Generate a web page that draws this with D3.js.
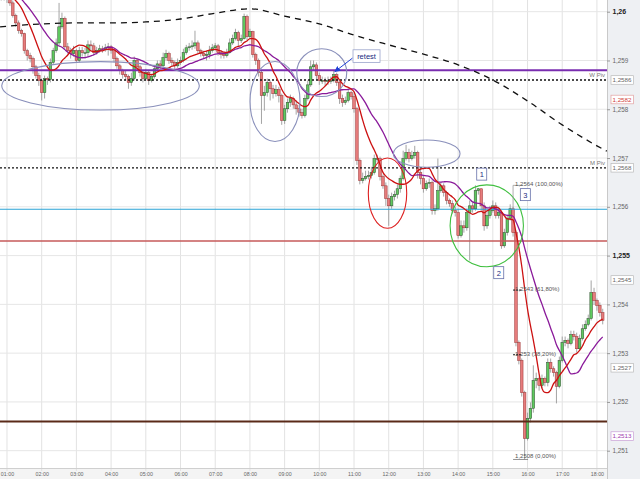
<!DOCTYPE html>
<html><head><meta charset="utf-8">
<script src="https://cdn.jsdelivr.net/npm/d3@7"></script>
<style>body{margin:0;background:#fff}svg{display:block;font-family:"Liberation Sans",Arial,sans-serif}</style>
</head><body><svg id="c" width="640" height="479"></svg>
<script>
// ---------- DATA ----------
const firstBarTime = "00:50";
const barMinutes = 5;
const firstOpen = 1.26043;
// estimated closes before the first visible bar (needed by the moving averages)
const priorCloses = [1.2609,1.2609,1.2608,1.2608,1.2607,1.2607,1.2606,1.2606,1.2605,1.2605,1.2605,1.2604,1.2604,1.2604,1.2604,1.2603,1.2604,1.2604,1.2604];
const closes = [
1.26029,1.26035,1.26027,1.26018,1.25992,1.25977,1.25961,1.25955,1.2592,1.2591,
1.25904,1.25887,1.25869,1.25859,1.25834,1.25863,1.25861,1.25896,1.2592,1.25936,
1.25969,1.25986,1.25928,1.2592,1.25914,1.2592,1.259,1.2592,1.25916,1.25916,
1.25932,1.2593,1.25916,1.2592,1.25924,1.25922,1.25926,1.25928,1.2592,1.25904,
1.25889,1.25879,1.25871,1.25867,1.25855,1.25863,1.259,1.25887,1.25875,1.25863,
1.25875,1.25859,1.25867,1.25883,1.25893,1.25889,1.25906,1.25914,1.259,1.25896,
1.25889,1.25896,1.259,1.25916,1.25926,1.25928,1.2593,1.25936,1.2592,1.25914,
1.2591,1.25912,1.2592,1.25926,1.2593,1.25916,1.25912,1.2591,1.25916,1.25936,
1.25945,1.25957,1.25941,1.25945,1.2599,1.25949,1.25959,1.25912,1.259,1.25875,
1.25828,1.25834,1.25855,1.25842,1.25832,1.2584,1.25828,1.25777,1.25801,1.25814,
1.25822,1.25809,1.25801,1.25793,1.25787,1.25822,1.2585,1.25887,1.25891,1.25869,
1.25859,1.25859,1.25857,1.25859,1.25859,1.25871,1.25855,1.25822,1.25814,1.25818,
1.25834,1.25826,1.25801,1.25695,1.25654,1.25658,1.25662,1.25664,1.2567,1.25699,
1.25699,1.25662,1.25643,1.25617,1.25602,1.25621,1.25625,1.25637,1.25658,1.25699,
1.25711,1.25699,1.25705,1.25711,1.2567,1.25658,1.25637,1.25648,1.2565,1.25592,
1.25596,1.25633,1.25643,1.25629,1.25613,1.25607,1.25592,1.25588,1.25541,1.25561,
1.25557,1.25588,1.25602,1.25596,1.25633,1.25637,1.25602,1.25561,1.25582,1.25592,
1.25602,1.25582,1.25588,1.2552,1.25547,1.25576,1.25596,1.25547,1.25322,1.25285,
1.25219,1.25125,1.25166,1.25187,1.25244,1.25248,1.25234,1.25248,1.2524,1.25281,
1.25268,1.2526,1.25232,1.25285,1.25322,1.25326,1.2532,1.25338,1.25334,1.25309,
1.2533,1.2535,1.25359,1.25371,1.25424,1.25408,1.25398,1.25383,1.25367];
const highs = [
1.26051,1.26043,1.26039,1.26031,1.26023,1.25996,1.25982,1.25965,1.25957,1.25924,
1.25916,1.25908,1.25891,1.25875,1.25863,1.25869,1.25867,1.25904,1.25926,1.25945,
1.26018,1.25998,1.2599,1.25936,1.25926,1.2593,1.25924,1.25928,1.25928,1.25926,
1.25941,1.25941,1.25936,1.25928,1.25932,1.2593,1.25934,1.25936,1.25932,1.2592,
1.25908,1.25893,1.25883,1.25879,1.25871,1.25875,1.25908,1.25904,1.25891,1.25879,
1.25883,1.25879,1.25873,1.25891,1.259,1.259,1.25916,1.25922,1.25918,1.25906,
1.259,1.25904,1.25908,1.25924,1.25932,1.25936,1.25941,1.25961,1.25941,1.25924,
1.2592,1.2592,1.2593,1.25934,1.25936,1.25934,1.2592,1.25918,1.25924,1.25945,
1.25953,1.25965,1.25961,1.25953,1.25996,1.25994,1.25965,1.25961,1.25916,1.25904,
1.25879,1.25848,1.25863,1.25859,1.2585,1.2585,1.25846,1.25832,1.25809,1.25822,
1.2583,1.25826,1.25818,1.25809,1.25801,1.2583,1.25859,1.259,1.259,1.25896,
1.25875,1.25867,1.25865,1.25867,1.25867,1.25879,1.25875,1.25859,1.2583,1.25826,
1.25842,1.25838,1.25834,1.25805,1.25699,1.2567,1.25674,1.25674,1.25682,1.25707,
1.25707,1.25703,1.25666,1.2565,1.25625,1.25629,1.25633,1.25646,1.25664,1.25715,
1.25727,1.25719,1.25715,1.25725,1.25715,1.25678,1.25664,1.25654,1.25658,1.25654,
1.25605,1.25699,1.2565,1.25648,1.25633,1.25617,1.25613,1.256,1.25596,1.25572,
1.25572,1.25596,1.25613,1.25609,1.25644,1.25638,1.25636,1.25609,1.25592,1.25602,
1.25613,1.25609,1.256,1.25592,1.25555,1.25584,1.25605,1.256,1.25551,1.25326,
1.25289,1.25223,1.25178,1.25199,1.25275,1.2526,1.25252,1.25256,1.25252,1.25289,
1.25289,1.25273,1.25264,1.25293,1.25334,1.25334,1.2533,1.25346,1.25346,1.25342,
1.25338,1.25359,1.25367,1.25379,1.25449,1.25434,1.25412,1.25404,1.25391];
const lows = [
1.26023,1.26023,1.26018,1.26012,1.25988,1.25969,1.25955,1.25949,1.25914,1.259,
1.25896,1.25873,1.25863,1.25848,1.25818,1.25822,1.2585,1.25855,1.25891,1.25916,
1.2593,1.25965,1.25924,1.25914,1.25904,1.25908,1.25896,1.25896,1.25908,1.25904,
1.25908,1.2592,1.2591,1.25912,1.25916,1.25916,1.25918,1.2591,1.25914,1.25896,
1.25883,1.25871,1.25863,1.25859,1.25842,1.25848,1.25859,1.25879,1.25867,1.25855,
1.25859,1.2585,1.25855,1.25863,1.25879,1.25883,1.25887,1.259,1.25893,1.25887,
1.25883,1.25885,1.25891,1.25896,1.25912,1.2592,1.25922,1.25924,1.25914,1.25908,
1.25904,1.259,1.25904,1.25916,1.2592,1.2591,1.25904,1.25904,1.25906,1.25914,
1.25932,1.25941,1.25928,1.25936,1.25943,1.25941,1.25945,1.25906,1.25891,1.25867,
1.2577,1.25797,1.25826,1.25818,1.25822,1.25826,1.25814,1.25768,1.2577,1.25793,
1.25805,1.25801,1.25789,1.25785,1.25781,1.25783,1.25818,1.25846,1.25879,1.25861,
1.2585,1.25852,1.25848,1.2585,1.25852,1.25855,1.25848,1.25811,1.25805,1.25809,
1.25814,1.2582,1.25793,1.25686,1.25646,1.25648,1.25654,1.25656,1.25658,1.25666,
1.25691,1.25654,1.25637,1.25602,1.25561,1.25596,1.25613,1.25617,1.25629,1.25654,
1.25695,1.25691,1.25695,1.25699,1.25658,1.25646,1.25629,1.25633,1.25639,1.25584,
1.25584,1.25592,1.25629,1.25621,1.25605,1.256,1.25586,1.2558,1.25535,1.25537,
1.25547,1.25551,1.2549,1.25588,1.25592,1.25625,1.25592,1.25551,1.25555,1.25576,
1.25588,1.25576,1.25576,1.25514,1.25516,1.25541,1.25572,1.25539,1.25314,1.25277,
1.25211,1.25082,1.25121,1.25158,1.25178,1.25228,1.25223,1.25228,1.25232,1.25232,
1.2526,1.25252,1.25197,1.25228,1.25281,1.25314,1.2531,1.25316,1.25326,1.25301,
1.25305,1.25326,1.25346,1.25355,1.25367,1.25399,1.25387,1.25375,1.25359];

const fastPeriod = 10, slowPeriod = 20;
const longMaTimes = ["00:48","02:00","03:00","04:00","05:00","06:00","07:00","08:00","09:00","10:00","11:00","12:00","13:00","14:00","15:00","16:00","17:00","18:00","18:17"];
const longMaValues = [1.25969,1.25975,1.25977,1.25977,1.25979,1.25985,1.25997,1.26006,1.25991,1.25975,1.25952,1.25932,1.25913,1.25891,1.2586,1.25817,1.25768,1.25725,1.25714];

const hourTicks = ["01:00","02:00","03:00","04:00","05:00","06:00","07:00","08:00","09:00","10:00","11:00","12:00","13:00","14:00","15:00","16:00","17:00","18:00"];
const priceTicks = [1.26,1.259,1.258,1.257,1.256,1.255,1.254,1.253,1.252,1.251];
const boldTicks = [1.26,1.255];

const levelNames  = ["resistance","W Piv","M Piv","support1","support2","low"];
const levelValues = [1.2588,1.2586,1.2568,1.25595,1.2553,1.2516];
const pivotLabels = ["W Piv","M Piv"];
const pivotValues = [1.2586,1.2568];
const priceBoxValues = [1.2586,1.2582,1.2568,1.2545,1.2527,1.2513];

const fibHigh = 1.25644, fibLow = 1.25082;
const fibRatios = [1,0.618,0.382,0];
const fibAnchorTime = "15:35";

// annotations (time, price, half-width in minutes, half-height in price)
const ellipseTimes  = ["03:41.7","08:43.4","10:04.2","13:05.7","11:57.9","14:49.5"];
const ellipsePrices = [1.25848,1.25816,1.25875,1.25709,1.25628,1.25561];
const ellipseRxMin  = [170.8,43.2,43.2,57.6,33.2,63.4];
const ellipseRyPrice= [0.000496,0.00082,0.00049,0.00028,0.00072,0.00084];
const ellipseKinds  = ["grey","grey","grey","grey","red","green"];

const calloutText = "retest", calloutTime = "11:21.6", calloutPrice = 1.25909;
const calloutTargetBar = 115;
const markerTexts = ["1","2","3"];
const markerTimes = ["14:40.8","15:10.2","15:56.2"];
const markerPrices = [1.25667,1.25465,1.25625];

// ---------- DRAW ----------
const W=640,H=479,PW=607,PH=468;
const day0 = new Date(2012,0,2,0,0,0);
const tMin = m => new Date(day0.getTime()+m*60000);
const parseHM = s => { const [h,m]=s.split(":"); return tMin(+h*60 + parseFloat(m)); };
const x = d3.scaleTime().domain([tMin(47.9), tMin(1097.4)]).range([0,PW]);
const y = d3.scaleLinear().domain([1.251,1.26]).range([450.7,11.7]);
const loc = d3.formatLocale({decimal:",",thousands:".",grouping:[3],currency:["",""]});
const f4 = loc.format(".4~f"), fPct = loc.format(".2f");

const svg = d3.select("#c");
svg.append("rect").attr("width",W).attr("height",H).attr("fill","#fff");
svg.append("rect").attr("x",PW).attr("y",0).attr("width",W-PW).attr("height",H).attr("fill","#eef0f3");
svg.append("rect").attr("x",0).attr("y",PH).attr("width",PW).attr("height",H-PH).attr("fill","#f4f4f4");

const defs = svg.append("defs");
defs.append("clipPath").attr("id","plot").append("rect").attr("width",PW).attr("height",PH);
defs.append("marker").attr("id","arr").attr("viewBox","0 0 10 10").attr("refX",9).attr("refY",5)
  .attr("markerWidth",6).attr("markerHeight",6).attr("orient","auto")
  .append("path").attr("d","M0,0 L10,5 L0,10 z").attr("fill","#1f3fd6");

// grid
const grid = svg.append("g");
grid.selectAll("line.v").data(hourTicks).join("line")
  .attr("x1",d=>x(parseHM(d))).attr("x2",d=>x(parseHM(d))).attr("y1",0).attr("y2",PH+3)
  .attr("stroke","#e2e2e2").attr("stroke-width",1);
grid.selectAll("line.h").data(priceTicks).join("line")
  .attr("x1",0).attr("x2",PW).attr("y1",d=>y(d)).attr("y2",d=>y(d))
  .attr("stroke","#e6e6e6").attr("stroke-width",1);
svg.append("line").attr("x1",PW+0.5).attr("x2",PW+0.5).attr("y1",0).attr("y2",H).attr("stroke","#c9c9c9");
svg.append("line").attr("x1",0).attr("x2",PW).attr("y1",PH+0.5).attr("y2",PH+0.5).attr("stroke","#cfcfcf");

// candles
const bars = closes.map((c,i)=>{
  const o = i ? closes[i-1] : firstOpen;
  return {t:d3.timeMinute.offset(parseHM(firstBarTime), i*barMinutes), o, c,
          h:Math.max(highs[i],o,c), l:Math.min(lows[i],o,c)};
});
const plot = svg.append("g").attr("clip-path","url(#plot)");
plot.selectAll("line.w").data(bars).join("line")
  .attr("x1",d=>x(d.t)).attr("x2",d=>x(d.t)).attr("y1",d=>y(d.h)).attr("y2",d=>y(d.l))
  .attr("stroke","#9a9a9a").attr("stroke-width",0.9);
plot.selectAll("rect.b").data(bars).join("rect")
  .attr("x",d=>x(d.t)-1.3).attr("width",2.6)
  .attr("y",d=>y(Math.max(d.o,d.c))).attr("height",d=>Math.max(0.8,Math.abs(y(d.o)-y(d.c))))
  .attr("fill",d=>d.c>=d.o?"#5fc95f":"#e67c7c")
  .attr("stroke",d=>d.c>=d.o?"#2e4a2e":"#9a3030").attr("stroke-width",0.5);

// horizontal levels
const levelStyle = {
  "resistance":{stroke:"#7a2db0",w:2,dash:null},
  "W Piv":{stroke:"#111",w:1.3,dash:"2,2"},
  "M Piv":{stroke:"#111",w:1.3,dash:"2,2"},
  "support1":{stroke:"#2aa3d6",w:1.2,dash:null},
  "support2":{stroke:"#c65a5a",w:1.5,dash:null},
  "low":{stroke:"#5a2a18",w:2,dash:null}};
plot.selectAll("line.lv").data(levelValues).join("line")
  .attr("x1",0).attr("x2",PW).attr("y1",d=>y(d)).attr("y2",d=>y(d))
  .attr("stroke",(d,i)=>levelStyle[levelNames[i]].stroke)
  .attr("stroke-width",(d,i)=>levelStyle[levelNames[i]].w)
  .attr("stroke-dasharray",(d,i)=>levelStyle[levelNames[i]].dash);
svg.selectAll("text.pv").data(pivotValues).join("text")
  .attr("x",PW-2).attr("y",d=>y(d)-3).attr("text-anchor","end")
  .attr("font-size",6).attr("fill","#777").text((d,i)=>pivotLabels[i]);

// moving averages
const all = priorCloses.concat(closes);
const sma = n => closes.map((c,i)=>{const e=i+priorCloses.length; return {t:bars[i].t, v:d3.mean(all.slice(e-n+1,e+1))};});
const line = d3.line().x(d=>x(d.t)).y(d=>y(d.v)).curve(d3.curveMonotoneX);
plot.append("path").attr("d",line(sma(slowPeriod))).attr("fill","none").attr("stroke","#8a1a9a").attr("stroke-width",1.3);
plot.append("path").attr("d",line(sma(fastPeriod))).attr("fill","none").attr("stroke","#cc1111").attr("stroke-width",1.3);
plot.append("path").attr("d",line(longMaTimes.map((t,i)=>({t:parseHM(t),v:longMaValues[i]}))))
  .attr("fill","none").attr("stroke","#111").attr("stroke-width",1.3).attr("stroke-dasharray","6,5");

// ellipses
const ellStroke = {grey:"#8a90bb",red:"#dd2020",green:"#3fbf3f"};
plot.selectAll("ellipse").data(ellipseTimes).join("ellipse")
  .attr("cx",d=>x(parseHM(d))).attr("cy",(d,i)=>y(ellipsePrices[i]))
  .attr("rx",(d,i)=>x(d3.timeMinute.offset(parseHM(d),0))-x(parseHM(d))+ (x(tMin(ellipseRxMin[i]))-x(tMin(0))))
  .attr("ry",(d,i)=>y(1.255-ellipseRyPrice[i])-y(1.255))
  .attr("fill","none").attr("stroke",(d,i)=>ellStroke[ellipseKinds[i]]).attr("stroke-width",1.1);

// fibonacci
const fx = x(parseHM(fibAnchorTime));
const fib = fibRatios.map(r=>({r, v:fibLow+(fibHigh-fibLow)*r}));
const fg = svg.append("g");
fg.append("path").attr("d",`M${fx},${y(fibHigh)}H${fx+10}M${fx},${y(fibHigh)}V${y(closes[176])}`)
  .attr("fill","none").attr("stroke","#999").attr("stroke-width",0.8);
fg.selectAll("line.fl").data(fib.filter(d=>d.r>0&&d.r<1)).join("line")
  .attr("x1",fx).attr("x2",fx+9).attr("y1",d=>y(d.v)).attr("y2",d=>y(d.v))
  .attr("stroke","#111").attr("stroke-width",1).attr("stroke-dasharray","2,1");
fg.append("line").attr("x1",fx).attr("x2",fx+15).attr("y1",y(fibLow)).attr("y2",y(fibLow)).attr("stroke","#777").attr("stroke-width",0.8);
fg.selectAll("text").data(fib).join("text")
  .attr("x",fx+2).attr("y",d=>y(d.v)+(d.r===0?-1:1))
  .attr("font-size",6).attr("fill","#555")
  .text(d=>`${f4(+d.v.toFixed(4))} (${fPct(d.r*100)}%)`);

// callout
const cg = svg.append("g");
const cx = x(parseHM(calloutTime)), cy = y(calloutPrice);
cg.append("line").attr("x1",cx-14).attr("y1",cy+2).attr("x2",x(bars[calloutTargetBar].t)+1).attr("y2",y(highs[calloutTargetBar])+1)
  .attr("stroke","#1f3fd6").attr("stroke-width",1).attr("marker-end","url(#arr)");
cg.append("rect").attr("x",cx-13.5).attr("y",cy-6.3).attr("width",27).attr("height",12.6)
  .attr("fill","#fff").attr("stroke","#9aa4cc").attr("stroke-width",0.8);
cg.append("text").attr("x",cx).attr("y",cy+2.6).attr("text-anchor","middle").attr("font-size",7.5).attr("fill","#1a2a80").text(calloutText);

const mg = svg.selectAll("g.mk").data(markerTexts).join("g").attr("class","mk")
  .attr("transform",(d,i)=>`translate(${x(parseHM(markerTimes[i]))},${y(markerPrices[i])})`);
mg.append("rect").attr("x",-5).attr("y",-6).attr("width",10).attr("height",12)
  .attr("fill","#fff").attr("stroke","#6670aa").attr("stroke-width",0.8);
mg.append("text").attr("y",3).attr("text-anchor","middle").attr("font-size",7.5).attr("fill","#1a2a80").text(d=>d);

// axes
const xa = svg.append("g").attr("transform",`translate(0,${PH})`)
  .call(d3.axisBottom(x).tickValues(hourTicks.map(parseHM)).tickFormat(d3.timeFormat("%H:%M")).tickSize(0).tickPadding(4));
xa.select(".domain").remove();
xa.selectAll("text").attr("font-size",5.3).attr("fill","#666").attr("font-family","Liberation Sans, Arial, sans-serif");

const ya = svg.append("g").attr("transform",`translate(${PW},0)`)
  .call(d3.axisRight(y).tickValues(priceTicks).tickFormat(f4).tickSize(3).tickPadding(2.5));
ya.select(".domain").remove();
ya.selectAll(".tick line").attr("stroke","#999");
ya.selectAll("text").attr("font-family","Liberation Sans, Arial, sans-serif")
  .attr("font-size",d=>boldTicks.includes(d)?7:6.3)
  .attr("font-weight",d=>boldTicks.includes(d)?"bold":"normal")
  .attr("fill",d=>boldTicks.includes(d)?"#222":"#666");

// price boxes
const boxColor = v => v===1.2582?"#d03a3a":(v===1.2513?"#a040b0":"#666");
const bg = svg.selectAll("g.pb").data(priceBoxValues).join("g").attr("class","pb")
  .attr("transform",d=>`translate(611,${y(d)})`);
bg.append("rect").attr("x",0).attr("y",-4.3).attr("width",22.5).attr("height",8.6)
  .attr("fill","#fff").attr("stroke",d=>d===1.2582?"#e2a0a0":(d===1.2513?"#c9a0d6":"#b9b9b9")).attr("stroke-width",0.7);
bg.append("text").attr("x",1.5).attr("y",2.3).attr("font-size",6.2).attr("fill",boxColor).text(d=>f4(d));
</script></body></html>
